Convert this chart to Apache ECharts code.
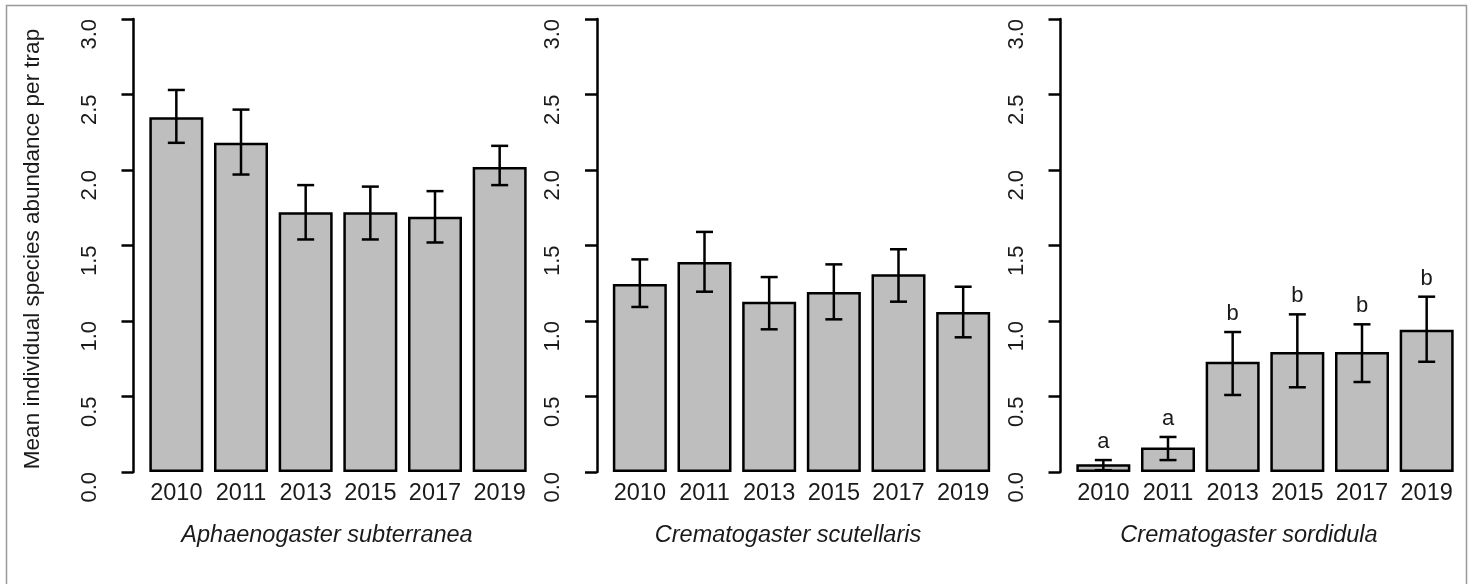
<!DOCTYPE html>
<html>
<head>
<meta charset="utf-8">
<script src="https://cdn.jsdelivr.net/npm/echarts@6/dist/echarts.min.js"></script>
<style>
  html, body { margin: 0; padding: 0; background: #fff; }
  #chart { width: 1474px; height: 584px; }
</style>
</head>
<body>
<div id="chart"></div>
<script>
// years sampled
const years = ['2010', '2011', '2013', '2015', '2017', '2019'];

// Aphaenogaster subterranea
const aphMean = [2.35, 2.18, 1.72, 1.72, 1.69, 2.02];
const aphLower = [2.18, 1.97, 1.54, 1.54, 1.52, 1.90];
const aphUpper = [2.53, 2.40, 1.90, 1.89, 1.86, 2.16];

// Crematogaster scutellaris
const scuMean = [1.245, 1.39, 1.128, 1.192, 1.309, 1.06];
const scuLower = [1.093, 1.194, 0.945, 1.011, 1.128, 0.892];
const scuUpper = [1.408, 1.59, 1.291, 1.375, 1.475, 1.227];

// Crematogaster sordidula
const sorMean = [0.051, 0.163, 0.73, 0.795, 0.795, 0.942];
const sorLower = [0.012, 0.079, 0.51, 0.561, 0.596, 0.73];
const sorUpper = [0.079, 0.232, 0.927, 1.044, 0.978, 1.161];
const sorLetters = ['a', 'a', 'b', 'b', 'b', 'b'];

const speciesNames = ['Aphaenogaster subterranea', 'Crematogaster scutellaris', 'Crematogaster sordidula'];

const FONT = 'Liberation Sans, Arial, sans-serif';
const TEXT = '#1a1a1a';
const panelStep = 463.5;

const chart = echarts.init(document.getElementById('chart'));

function errorItem(params, api) {
  const lo = api.coord([api.value(0), api.value(1)]);
  const hi = api.coord([api.value(0), api.value(2)]);
  const hw = 8.5;
  const style = { stroke: '#000', lineWidth: 2.5, fill: null };
  return {
    type: 'group',
    children: [
      { type: 'line', shape: { x1: lo[0], y1: lo[1], x2: hi[0], y2: hi[1] }, style },
      { type: 'line', shape: { x1: lo[0] - hw, y1: lo[1], x2: lo[0] + hw, y2: lo[1] }, style },
      { type: 'line', shape: { x1: hi[0] - hw, y1: hi[1], x2: hi[0] + hw, y2: hi[1] }, style }
    ]
  };
}

function letterItem(params, api) {
  const p = api.coord([api.value(0), api.value(1)]);
  return {
    type: 'text',
    x: p[0],
    y: p[1] - 18,
    style: {
      text: sorLetters[params.dataIndex],
      align: 'center',
      verticalAlign: 'middle',
      font: '22px ' + FONT,
      fill: TEXT
    }
  };
}

const means = [aphMean, scuMean, sorMean];
const lowers = [aphLower, scuLower, sorLower];
const uppers = [aphUpper, scuUpper, sorUpper];

const grids = [], xAxes = [], yAxes = [], series = [];
for (let k = 0; k < 3; k++) {
  grids.push({ left: 144 + k * panelStep, width: 388, top: 19, height: 453 });
  xAxes.push({
    type: 'category',
    gridIndex: k,
    data: years,
    axisLine: { show: false },
    axisTick: { show: false },
    axisLabel: { interval: 0, fontSize: 23.5, fontFamily: FONT, color: TEXT, margin: 10 }
  });
  yAxes.push({
    type: 'value',
    gridIndex: k,
    min: 0,
    max: 3,
    interval: 0.5,
    offset: 10.5,
    axisLine: { show: true, lineStyle: { color: '#000', width: 2.5 } },
    axisTick: { show: true, length: 12, lineStyle: { color: '#000', width: 2.5 } },
    splitLine: { show: false },
    axisLabel: {
      rotate: 90,
      align: 'right',
      margin: 33,
      fontSize: 22,
      fontFamily: FONT,
      color: TEXT,
      formatter: v => v.toFixed(1)
    }
  });
  series.push({
    type: 'bar',
    xAxisIndex: k,
    yAxisIndex: k,
    data: means[k],
    barWidth: 54,
    itemStyle: { color: '#bebebe', borderColor: '#000', borderWidth: 2.5 }
  });
  series.push({
    type: 'custom',
    xAxisIndex: k,
    yAxisIndex: k,
    renderItem: errorItem,
    data: years.map((y, i) => [i, lowers[k][i], uppers[k][i]]),
    z: 5
  });
}
series.push({
  type: 'custom',
  xAxisIndex: 2,
  yAxisIndex: 2,
  renderItem: letterItem,
  data: years.map((y, i) => [i, sorUpper[i]]),
  z: 6
});

const graphics = [
  {
    type: 'rect',
    shape: { x: 6.5, y: 5.5, width: 1460, height: 620 },
    style: { fill: null, stroke: '#999', lineWidth: 1.5 },
    silent: true
  },
  {
    type: 'text',
    x: 33,
    y: 249,
    rotation: Math.PI / 2,
    style: {
      text: 'Mean individual species abundance per trap',
      align: 'center',
      verticalAlign: 'middle',
      font: '22.5px ' + FONT,
      fill: TEXT
    }
  }
];
speciesNames.forEach((name, k) => {
  graphics.push({
    type: 'text',
    x: 327 + k * 461,
    y: 535,
    style: {
      text: name,
      align: 'center',
      verticalAlign: 'middle',
      font: 'italic 23.5px ' + FONT,
      fill: TEXT
    }
  });
});

chart.setOption({
  animation: false,
  backgroundColor: '#fff',
  grid: grids,
  xAxis: xAxes,
  yAxis: yAxes,
  series: series,
  graphic: graphics
});
</script>
</body>
</html>
